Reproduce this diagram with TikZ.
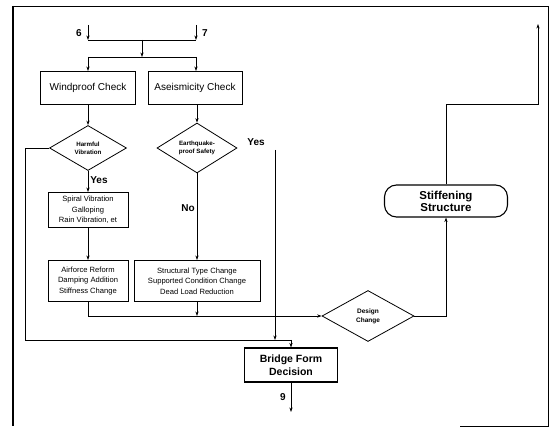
\documentclass[tikz,border=0pt]{standalone}
\usepackage{fontspec}
\setmainfont{Liberation Sans}
\usetikzlibrary{shapes.geometric,arrows.meta}
\begin{document}
\begin{tikzpicture}[x=1pt,y=-1pt,
  line width=0.7pt,
  arr/.style={-{Stealth[length=4.5pt,width=3.2pt]}},
  boxA/.style={draw,line width=1pt,rectangle,inner sep=1pt,align=center,font=\fontsize{10}{12}\selectfont},
  boxB/.style={draw,line width=1pt,rectangle,inner sep=1pt,align=center,font=\fontsize{7.6}{10.5}\selectfont},
  dia/.style={draw,line width=0.8pt,diamond,inner sep=0pt,align=center,font=\bfseries\fontsize{6.2}{8}\selectfont},
  lbl/.style={font=\bfseries\fontsize{10}{11}\selectfont,inner sep=1pt}]
\useasboundingbox (0,0) rectangle (554,427);
% frame
\draw[line width=0.9pt] (460,426) -- (548,426) -- (548,6) -- (13,6);
\draw[line width=1.6pt] (13,6) -- (13,426);
% inputs
\coordinate (in6) at (88,25);
\coordinate (in7) at (196,25);
\coordinate (j6) at (88,40);
\coordinate (j7) at (196,40);
\coordinate (jm) at (142,40);
\coordinate (km) at (142,57);
\coordinate (k6) at (88,57);
\coordinate (k7) at (196,57);
\node[lbl] (l6) at (79,33) {6};
\node[lbl] (l7) at (205,33) {7};
% nodes
\node[boxA,minimum width=95pt,minimum height=33pt] (wind) at (88,88) {Windproof Check};
\node[boxA,minimum width=94pt,minimum height=33pt] (aseis) at (195,88) {Aseismicity Check};
\node[dia,minimum width=77pt,minimum height=45pt] (harm) at (88,148) {Harmful\\Vibration};
\node[dia,minimum width=80pt,minimum height=45pt] (eq) at (197,148) {Earthquake-\\proof Safety};
\node[boxB,minimum width=80pt,minimum height=35pt] (spiral) at (88,210) {Spiral Vibration\\Galloping\\Rain Vibration, et};
\node[boxB,minimum width=80pt,minimum height=41pt] (air) at (88,281) {Airforce Reform\\Damping Addition\\Stiffness Change};
\node[boxB,minimum width=126pt,minimum height=41pt] (struct) at (197,281) {Structural Type Change\\Supported Condition Change\\Dead Load Reduction};
\node[dia,minimum width=92pt,minimum height=51pt,font=\bfseries\fontsize{6.5}{9}\selectfont] (design) at (368,316) {Design\\Change};
\node[draw,line width=1.1pt,minimum width=93pt,minimum height=34pt,inner sep=1pt,align=center,font=\bfseries\fontsize{10.5}{12.5}\selectfont] (bridge) at (291,365) {Bridge Form\\Decision};
\node[draw,line width=1.1pt,rounded corners=12pt,minimum width=123pt,minimum height=32pt,inner sep=1pt,align=center,font=\bfseries\fontsize{11.5}{12}\selectfont] (stiff) at (446,201) {Stiffening\\Structure};
% coordinates
\coordinate (hl) at (25,148);
\coordinate (hb) at (25,340);
\coordinate (hr) at (291,340);
\coordinate (ytop) at (275,150);
\coordinate (ybot) at (275,340);
\coordinate (ab) at (88,316);
\coordinate (sb) at (197,316);
\coordinate (out9) at (291,412);
\coordinate (sr) at (538,104);
\coordinate (outT) at (538,24);
% connectors
\draw[arr] (in6) -- (j6);
\draw[arr] (in7) -- (j7);
\draw (j6) -- (j7);
\draw[arr] (jm) -- (km);
\draw (k6) -- (k7);
\draw[arr] (k6) -- (wind.north);
\draw[arr] (k7) -- (aseis.north -| k7);
\draw[arr] (wind.south) -- (harm.north);
\draw[arr] (aseis.south -| eq.north) -- (eq.north);
\draw[arr] (harm.south) -- node[lbl,right,pos=0.45,xshift=1pt] {Yes} (spiral.north);
\draw[arr] (spiral.south) -- (air.north);
\draw[arr] (eq.south) -- node[lbl,left,pos=0.4,xshift=-1pt] {No} (struct.north);
\draw (harm.west) -- (hl) -- (hb) -- (hr);
\draw[arr] (hr) -- (bridge.north -| hr);
\node[lbl] (yeslbl) at (256,142) {Yes};
\draw[arr] (ytop) -- (ybot);
\draw (air.south) -- (ab);
\draw[arr] (ab) -- (design.west);
\draw[arr] (struct.south) -- (sb);
\draw[arr] (design.east) -| (stiff.south);
\draw[arr] (stiff.north) |- (sr) -- (outT);
\draw[arr] (bridge.south) -- (out9);
\node[lbl] (l9) at (283,397) {9};
\end{tikzpicture}
\end{document}
